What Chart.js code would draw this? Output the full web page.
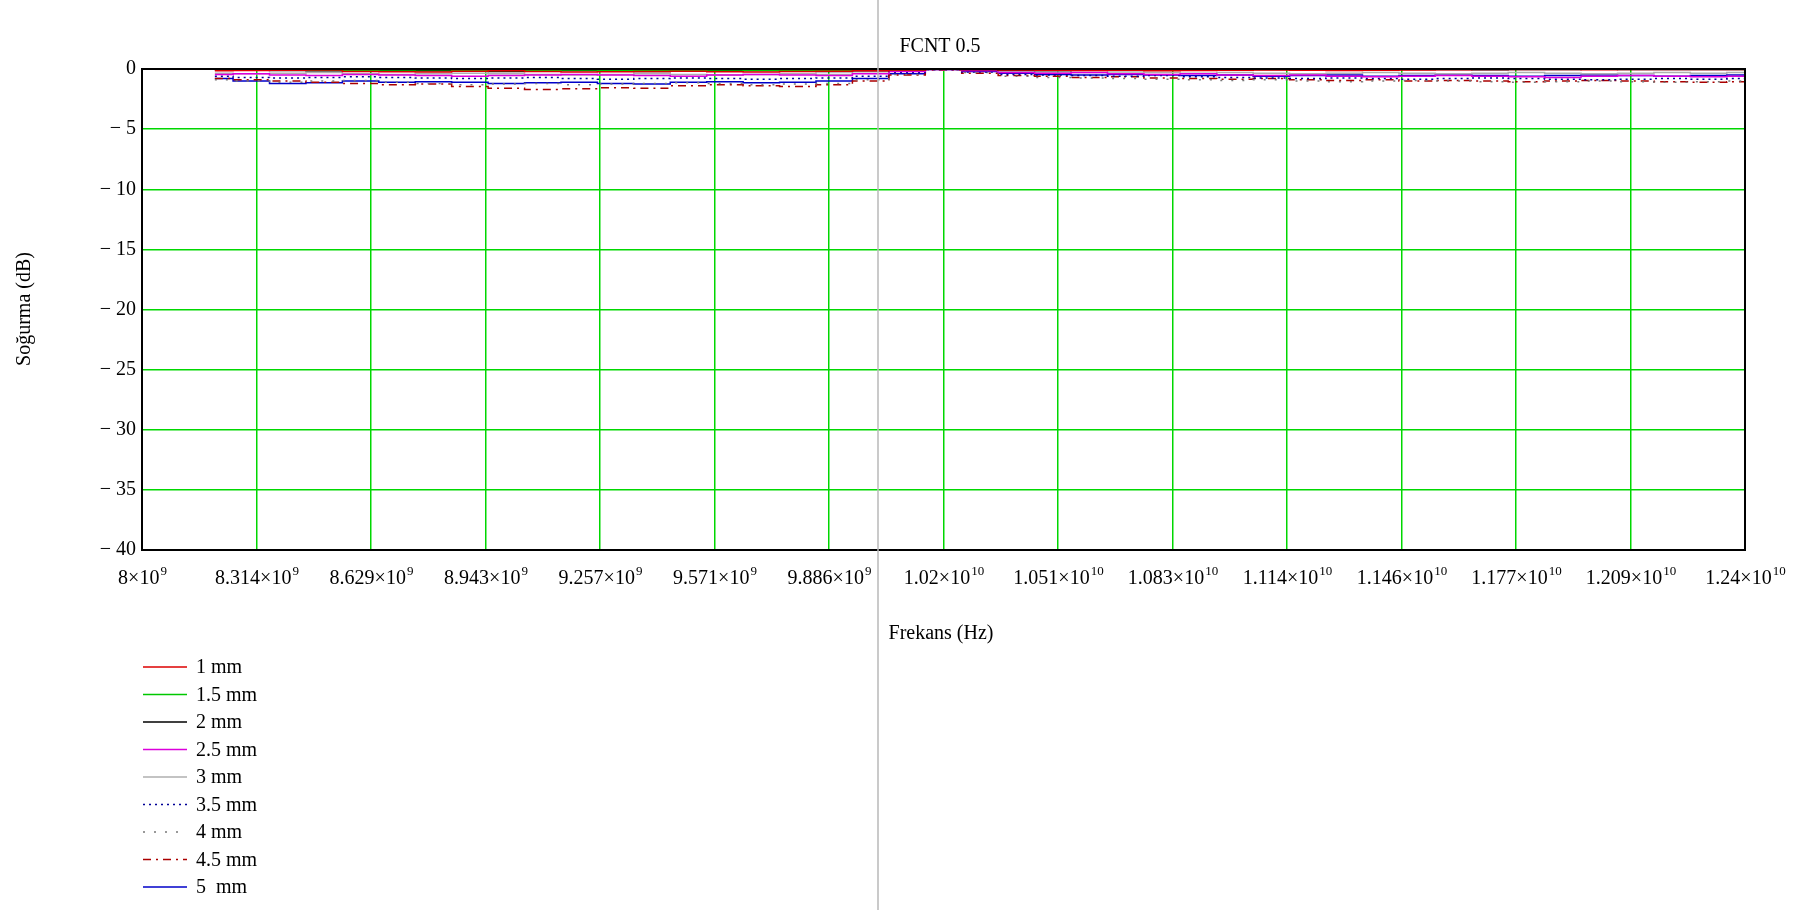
<!DOCTYPE html>
<html>
<head>
<meta charset="utf-8">
<script src="https://cdn.jsdelivr.net/npm/chart.js@4.4.0/dist/chart.umd.min.js"></script>
<style>
  html, body { margin: 0; padding: 0; background: #ffffff; }
</style>
</head>
<body>
<canvas id="chart1" width="1804" height="910"></canvas>
<script>
// frequency points (GHz)
const freqGHz = [8.2, 8.3, 8.4, 8.5, 8.6, 8.7, 8.8, 8.9, 9.0, 9.1, 9.2, 9.3, 9.4, 9.5, 9.6, 9.7, 9.8, 9.9, 10.0, 10.1, 10.2,
                 10.3, 10.4, 10.5, 10.6, 10.7, 10.8, 10.9, 11.0, 11.1, 11.2, 11.3, 11.4, 11.5, 11.6, 11.7, 11.8, 11.9, 12.0, 12.1, 12.2, 12.3, 12.4];

const seriesLabels = ['1 mm', '1.5 mm', '2 mm', '2.5 mm', '3 mm', '3.5 mm', '4 mm', '4.5 mm', '5  mm'];

// absorption (dB)
const abs1mm = [-0.15,-0.12,-0.1,-0.08,-0.2,-0.22,-0.25,-0.18,-0.15,-0.2,-0.25,-0.22,-0.2,-0.18,-0.22,-0.25,-0.2,-0.18,-0.15,-0.08,-0.02,
                -0.05,-0.08,-0.1,-0.12,-0.1,-0.15,-0.12,-0.1,-0.08,-0.1,-0.12,-0.1,-0.08,-0.06,-0.05,-0.04,-0.05,-0.06,-0.05,-0.04,-0.05,-0.05];
const abs15mm = [-0.05,-0.06,-0.05,-0.08,-0.1,-0.08,-0.06,-0.1,-0.12,-0.1,-0.08,-0.1,-0.12,-0.1,-0.08,-0.1,-0.12,-0.1,-0.08,-0.05,-0.02,
                 -0.03,-0.05,-0.04,-0.03,-0.05,-0.06,-0.05,-0.04,-0.03,-0.02,-0.03,-0.02,-0.02,-0.03,-0.02,-0.02,-0.01,-0.02,-0.02,-0.01,-0.02,-0.02];
const abs2mm = [-0.1,-0.1,-0.12,-0.15,-0.12,-0.1,-0.15,-0.18,-0.2,-0.15,-0.12,-0.15,-0.2,-0.18,-0.15,-0.12,-0.15,-0.2,-0.15,-0.06,-0.01,
                -0.05,-0.1,-0.12,-0.1,-0.08,-0.1,-0.08,-0.06,-0.05,-0.08,-0.06,-0.05,-0.04,-0.05,-0.06,-0.05,-0.04,-0.03,-0.05,-0.04,-0.05,-0.04];
const abs25mm = [-0.45,-0.4,-0.5,-0.55,-0.45,-0.5,-0.55,-0.6,-0.55,-0.5,-0.45,-0.5,-0.55,-0.6,-0.5,-0.45,-0.5,-0.55,-0.4,-0.2,-0.05,
                 -0.15,-0.3,-0.35,-0.3,-0.4,-0.45,-0.4,-0.5,-0.55,-0.5,-0.6,-0.65,-0.6,-0.55,-0.6,-0.65,-0.7,-0.6,-0.55,-0.6,-0.65,-0.6];
const abs3mm = [-0.35,-0.4,-0.35,-0.3,-0.4,-0.45,-0.4,-0.35,-0.4,-0.45,-0.5,-0.45,-0.4,-0.45,-0.5,-0.45,-0.4,-0.45,-0.35,-0.15,-0.04,
                -0.1,-0.2,-0.25,-0.3,-0.25,-0.3,-0.35,-0.3,-0.35,-0.4,-0.35,-0.3,-0.35,-0.4,-0.35,-0.3,-0.35,-0.4,-0.35,-0.3,-0.35,-0.3];
const abs35mm = [-0.6,-0.7,-0.75,-0.7,-0.65,-0.7,-0.75,-0.8,-0.75,-0.7,-0.8,-0.85,-0.8,-0.75,-0.8,-0.85,-0.8,-0.75,-0.6,-0.3,-0.06,
                 -0.25,-0.45,-0.5,-0.55,-0.6,-0.55,-0.65,-0.7,-0.75,-0.8,-0.75,-0.8,-0.85,-0.8,-0.75,-0.8,-0.85,-0.9,-0.85,-0.8,-0.85,-0.8];
const abs4mm = [-0.9,-1.0,-1.1,-1.0,-0.95,-1.1,-1.2,-1.3,-1.25,-1.2,-1.3,-1.25,-1.2,-1.15,-1.2,-1.3,-1.25,-1.2,-0.9,-0.45,-0.08,
                -0.3,-0.6,-0.7,-0.75,-0.8,-0.85,-0.9,-0.95,-0.9,-1.0,-1.05,-1.0,-0.95,-1.0,-1.05,-1.1,-1.05,-1.0,-1.05,-1.1,-1.05,-1.0];
const abs45mm = [-0.8,-0.9,-1.0,-1.1,-1.2,-1.3,-1.25,-1.45,-1.6,-1.7,-1.65,-1.55,-1.6,-1.4,-1.3,-1.4,-1.45,-1.3,-1.0,-0.5,-0.1,
                 -0.35,-0.55,-0.6,-0.7,-0.65,-0.75,-0.8,-0.85,-0.8,-0.9,-0.95,-0.9,-1.0,-0.95,-1.0,-1.05,-1.0,-0.95,-1.0,-1.05,-1.1,-1.05];
const abs5mm = [-0.8,-1.0,-1.2,-1.15,-1.0,-1.1,-1.05,-1.1,-1.2,-1.15,-1.1,-1.2,-1.25,-1.1,-1.05,-1.15,-1.1,-1.0,-0.8,-0.4,-0.05,
                -0.2,-0.35,-0.45,-0.5,-0.45,-0.5,-0.55,-0.5,-0.6,-0.55,-0.5,-0.6,-0.55,-0.5,-0.55,-0.6,-0.55,-0.5,-0.55,-0.6,-0.55,-0.5];

// x tick labels as Mathcad prints them: mantissa x 10^power
const xTickLabels = ['8', '8.314', '8.629', '8.943', '9.257', '9.571', '9.886', '1.02', '1.051', '1.083', '1.114', '1.146', '1.177', '1.209', '1.24'];
const xTickPowers = [9, 9, 9, 9, 9, 9, 9, 10, 10, 10, 10, 10, 10, 10, 10];
const xMin = 8e9;
const xMax = 1.24e10;

const allSeries = [abs1mm, abs15mm, abs2mm, abs25mm, abs3mm, abs35mm, abs4mm, abs45mm, abs5mm];
const lineColors = ['rgb(220,0,0)', 'rgb(0,200,0)', '#000000', 'rgb(220,0,220)', 'rgb(175,175,175)',
                    'rgb(0,0,150)', 'rgb(120,120,120)', 'rgb(170,0,0)', 'rgb(0,0,200)'];
const lineDashes = [[], [], [], [], [], [2, 4], [2, 9], [8, 5, 2, 5], []];

const gridGreen = 'rgb(0,215,0)';
const serif = '"Liberation Serif", "Times New Roman", serif';

const datasets = [];
for (let s = 0; s < allSeries.length; s++) {
    datasets.push({
        label: seriesLabels[s],
        data: freqGHz.map((f, i) => ({ x: f * 1e9, y: allSeries[s][i] })),
        borderColor: lineColors[s],
        borderDash: lineDashes[s],
        borderWidth: 1.5,
        pointRadius: 0,
        fill: false,
        stepped: 'middle'
    });
}

const mathcadLook = {
    id: 'mathcadLook',
    afterDraw(chart) {
        const ctx = chart.ctx;
        const a = chart.chartArea;
        const xs = chart.scales.x;
        ctx.save();

        // plot frame
        ctx.strokeStyle = '#000';
        ctx.lineWidth = 2;
        ctx.setLineDash([]);
        ctx.strokeRect(a.left, a.top, a.right - a.left, a.bottom - a.top);

        // x tick labels with superscript powers
        ctx.fillStyle = '#000';
        ctx.textBaseline = 'alphabetic';
        ctx.textAlign = 'left';
        xs.ticks.forEach((t, k) => {
            const mant = xTickLabels[k] + '\u00d710';
            const sup = String(xTickPowers[k]);
            ctx.font = '20px ' + serif;
            const w1 = ctx.measureText(mant).width;
            ctx.font = '13px ' + serif;
            const w2 = ctx.measureText(sup).width;
            const px = xs.getPixelForValue(t.value);
            const x0 = px - (w1 + w2) / 2;
            ctx.font = '20px ' + serif;
            ctx.fillText(mant, x0, 584);
            ctx.font = '13px ' + serif;
            ctx.fillText(sup, x0 + w1 + 1, 575);
        });

        // title and axis titles
        ctx.font = '20px ' + serif;
        ctx.textAlign = 'center';
        ctx.fillText('FCNT 0.5', 940, 52);
        ctx.fillText('Frekans (Hz)', 941, 639);

        ctx.save();
        ctx.translate(30, 309);
        ctx.rotate(-Math.PI / 2);
        ctx.textBaseline = 'alphabetic';
        ctx.fillText('So\u011furma (dB)', 0, 0);
        ctx.restore();

        // legend
        ctx.textAlign = 'left';
        ctx.textBaseline = 'middle';
        chart.data.datasets.forEach((ds, i) => {
            const y = 667 + i * 27.5;
            ctx.strokeStyle = ds.borderColor;
            ctx.lineWidth = 1.5;
            ctx.setLineDash(ds.borderDash);
            ctx.beginPath();
            ctx.moveTo(143, y);
            ctx.lineTo(187, y);
            ctx.stroke();
            ctx.setLineDash([]);
            ctx.fillStyle = '#000';
            ctx.fillText(ds.label, 196, y + 1);
        });

        // gray page divider crossing the picture
        ctx.strokeStyle = 'rgb(185,185,185)';
        ctx.lineWidth = 1.5;
        ctx.beginPath();
        ctx.moveTo(878, 0);
        ctx.lineTo(878, 910);
        ctx.stroke();

        ctx.restore();
    }
};

var ctx1 = document.getElementById('chart1').getContext('2d');
var chart1 = new Chart(ctx1, {
    type: 'line',
    data: { datasets: datasets },
    plugins: [mathcadLook],
    options: {
        responsive: false,
        animation: false,
        devicePixelRatio: 1,
        layout: { padding: { left: 0, top: 69, right: 59, bottom: 0 } },
        plugins: {
            legend: { display: false },
            title: { display: false },
            tooltip: { enabled: false }
        },
        scales: {
            x: {
                type: 'linear',
                min: xMin,
                max: xMax,
                afterBuildTicks: (scale) => {
                    scale.ticks = xTickLabels.map((lbl, k) => ({ value: xMin + k * (xMax - xMin) / (xTickLabels.length - 1) }));
                },
                afterFit: (scale) => { scale.height = 360; },
                ticks: { display: false },
                border: { display: false },
                grid: {
                    drawTicks: false,
                    lineWidth: 1.5,
                    color: (c) => (c.index === 0 || c.index === xTickLabels.length - 1) ? 'rgba(0,0,0,0)' : gridGreen
                }
            },
            y: {
                min: -40,
                max: 0,
                afterFit: (scale) => { scale.width = 142; },
                ticks: {
                    stepSize: 5,
                    padding: 6,
                    color: '#000',
                    font: { family: serif, size: 20 },
                    callback: (v) => v === 0 ? '0' : '\u2212 ' + Math.abs(v)
                },
                border: { display: false },
                grid: {
                    drawTicks: false,
                    lineWidth: 1.5,
                    color: (c) => (c.tick.value === 0 || c.tick.value === -40) ? 'rgba(0,0,0,0)' : gridGreen
                }
            }
        }
    }
});
</script>
</body>
</html>
